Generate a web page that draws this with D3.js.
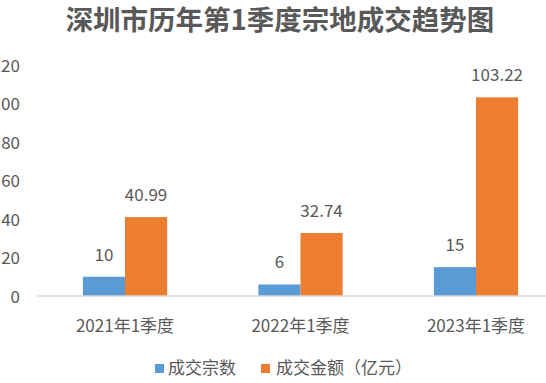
<!DOCTYPE html>
<html><head><meta charset="utf-8">
<script src="https://cdn.jsdelivr.net/npm/d3@7"></script>
<style>body{margin:0;background:#fff}svg{display:block}text{font-family:"Noto Sans CJK SC","Noto Sans",sans-serif;fill:#595959}</style>
</head><body><svg id="c" width="546" height="383"></svg>
<script>
const categories = ["2021年1季度","2022年1季度","2023年1季度"];
const seriesNames = ["成交宗数","成交金额（亿元）"];
const countValues = [10, 6, 15];
const amountValues = [40.99, 32.74, 103.22];
const yTicks = [0,20,40,60,80,100,120];
const title = "深圳市历年第1季度宗地成交趋势图";
const colors = ["#5B9BD5","#ED7D31"];

const svg = d3.select("#c");
const x = d3.scaleBand().domain(categories).range([37.25,563.75]).paddingInner(0.52).paddingOuter(0.26);
const xs = d3.scaleBand().domain(seriesNames).range([0,x.bandwidth()]);
const y = d3.scaleLinear().domain([0,120]).range([296,65]);

svg.append("text").attr("x",280).attr("y",30).attr("text-anchor","middle")
  .style("font-size","27.5px").style("font-weight","bold").text(title);

// y labels
const yAxis = d3.axisLeft(y).tickValues(yTicks).tickSize(0).tickPadding(0);
const yg = svg.append("g").attr("transform","translate(20,0)").call(yAxis);
yg.select(".domain").remove();
yg.selectAll("text").style("font-size","17px").attr("fill","#595959").attr("dy","0.36em");

const rows = categories.map((c,i)=>({cat:c, vals:[countValues[i], amountValues[i]]}));
const g = svg.selectAll("g.cat").data(rows).join("g").attr("class","cat")
  .attr("transform",d=>`translate(${x(d.cat)},0)`);
g.selectAll("rect").data(d=>d.vals.map((v,j)=>({s:seriesNames[j],v,j}))).join("rect")
  .attr("x",d=>xs(d.s)).attr("width",xs.bandwidth())
  .attr("y",d=>y(d.v)).attr("height",d=>y(0)-y(d.v)).attr("fill",d=>colors[d.j]);
g.selectAll("text.v").data(d=>d.vals.map((v,j)=>({s:seriesNames[j],v,j}))).join("text").attr("class","v")
  .attr("x",d=>xs(d.s)+xs.bandwidth()/2).attr("y",d=>y(d.v)-16).attr("text-anchor","middle")
  .style("font-size","17px").text(d=>d.v);

// x axis
const xAxis = d3.axisBottom(x).tickSize(0).tickPadding(0);
const xg = svg.append("g").attr("transform","translate(0,296)").call(xAxis);
xg.select(".domain").remove();
xg.selectAll("text").style("font-size","17px").attr("fill","#595959").attr("dy","0").attr("y",36);
svg.append("line").attr("x1",37).attr("x2",546).attr("y1",y(0)).attr("y2",y(0))
  .attr("stroke","#D9D9D9").attr("stroke-width",1.5);

// legend
const leg = [{x:155,tx:168},{x:261,tx:276}];
seriesNames.forEach((s,i)=>{
  svg.append("rect").attr("x",leg[i].x).attr("y",364).attr("width",9).attr("height",9).attr("fill",colors[i]);
  svg.append("text").attr("x",leg[i].tx).attr("y",374).style("font-size","17px").text(s);
});
</script></body></html>
